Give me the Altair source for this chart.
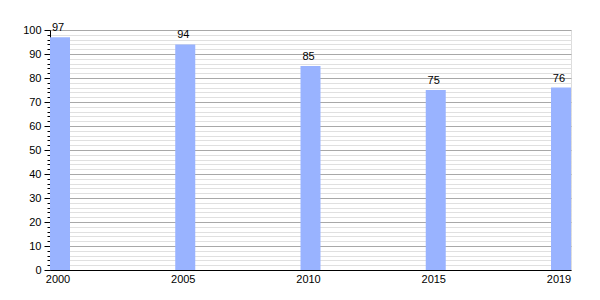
import altair as alt
import pandas as pd

years = ["2000", "2005", "2010", "2015", "2019"]
values = [97, 94, 85, 75, 76]
y_ticks = list(range(0, 101, 2))

df = pd.DataFrame({"year": years, "value": values})

major = "datum.value % 10 === 0"

x = alt.X(
    "year:N",
    sort=None,
    scale=alt.Scale(paddingInner=0.8403, paddingOuter=0, align=0),
    axis=alt.Axis(
        title=None, labelAngle=0, ticks=False, domainColor="#000", domainWidth=1,
        labelColor="#000", labelFont="Liberation Sans", labelFontSize=11,
        labelPadding=3, labelOffset=-2,
    ),
)
y = alt.Y(
    "value:Q",
    scale=alt.Scale(domain=[0, 100], nice=False),
    axis=alt.Axis(
        title=None, values=y_ticks,
        labelExpr=f"{major} ? datum.label : ''",
        grid=True,
        gridColor={"condition": {"test": major, "value": "#a8a8a8"}, "value": "#e0e0e0"},
        tickSize={"condition": {"test": major, "value": 6}, "value": 3},
        tickColor="#000", domainColor="#000",
        labelColor="#000", labelFont="Liberation Sans", labelFontSize=11,
        labelPadding=3, labelFlush=False, labelOverlap=False,
    ),
)

bars = alt.Chart(df).mark_bar(color="#99b3ff").encode(x=x, y=y)
text = alt.Chart(df).mark_text(
    baseline="bottom", dy=-4, dx=-2, font="Liberation Sans", fontSize=11, color="#000"
).encode(x=x, y=y, text="value:Q")

chart = (bars + text).properties(
    width=521, height=240,
    autosize=alt.AutoSizeParams(type="none"),
    padding={"left": 50, "top": 30, "right": 29, "bottom": 30},
).configure_view(stroke=None).configure(background="white")

chart.save("out.html", embed_options={"renderer": "svg", "actions": False})
